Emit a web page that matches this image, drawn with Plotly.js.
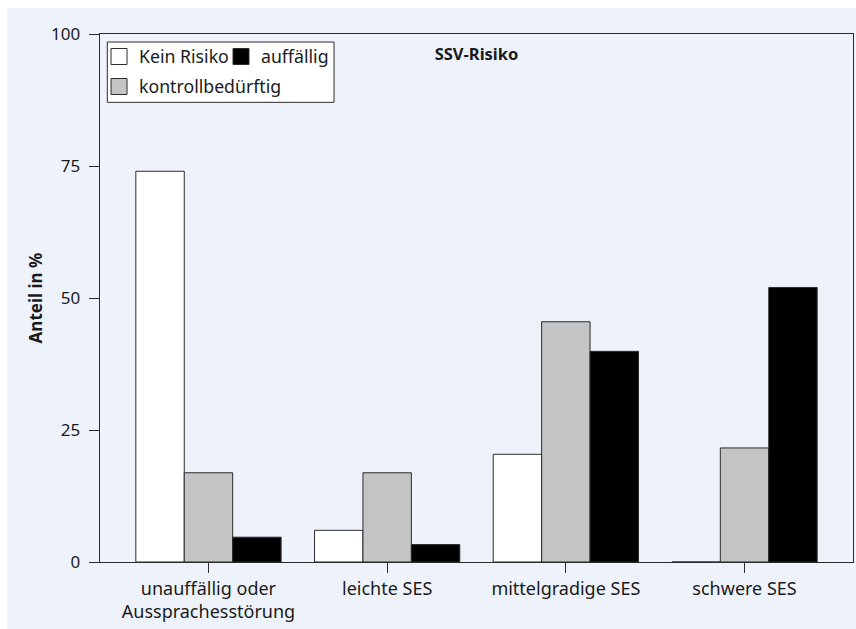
<!DOCTYPE html>
<html>
<head>
<meta charset="utf-8">
<script src="https://cdn.plot.ly/plotly-3.0.1.min.js"></script>
<style>
  html, body { margin: 0; padding: 0; background: #ffffff; }
  #chart { width: 856px; height: 629px; }
</style>
</head>
<body>
<div id="chart"></div>
<script>
// Gruppen (x-Achse)
const categories = [
  'unauffällig oder<br>Aussprachesstörung',
  'leichte SES',
  'mittelgradige SES',
  'schwere SES'
];

// Anteil in % je SSV-Risikostufe
const keinRisiko = [74, 6, 20.4, 0];
const kontrollbeduerftig = [16.9, 16.9, 45.5, 21.6];
const auffaellig = [4.7, 3.3, 39.9, 52];

const seriesNames = ['Kein Risiko', 'kontrollbedürftig', 'auffällig'];
const seriesColors = ['#ffffff', '#c4c4c4', '#000000'];
const yTicks = [0, 25, 50, 75, 100];

const FONT = '"Noto Sans", "Open Sans", sans-serif';
const TEXT = '#1a1a1a';
const EDGE = '#2b2b2b';
const PANEL = '#eef3fb';

const seriesValues = [keinRisiko, kontrollbeduerftig, auffaellig];

// Balken (ohne eigenen Legendeneintrag)
const bars = seriesValues.map((vals, i) => ({
  type: 'bar',
  x: categories,
  y: vals,
  name: seriesNames[i],
  showlegend: false,
  marker: { color: seriesColors[i], line: { color: EDGE, width: 1 } },
  hoverinfo: 'x+y+name'
}));

// Legendeneinträge mit größeren Farbquadraten
const legendPlacement = ['legend', 'legend', 'legend2'];
const keys = seriesNames.map((name, i) => ({
  type: 'scatter',
  mode: 'markers',
  x: [null],
  y: [null],
  name: name,
  legend: legendPlacement[i],
  legendgroup: 'g' + i,
  marker: { symbol: 'square', size: 16, color: seriesColors[i], line: { color: EDGE, width: 1 } },
  hoverinfo: 'skip'
}));

const legendFont = { family: FONT, size: 17.7, color: TEXT };

const layout = {
  width: 856,
  height: 629,
  margin: { l: 100, r: 3, t: 34, b: 67 },
  paper_bgcolor: '#ffffff',
  plot_bgcolor: 'rgba(0,0,0,0)',
  font: { family: FONT, size: 18, color: TEXT },
  barmode: 'group',
  bargap: 0.187,
  bargroupgap: 0,
  title: {
    text: '<b>SSV-Risiko</b>',
    font: { family: FONT, size: 16.5, color: TEXT },
    xref: 'paper', x: 0.5, xanchor: 'center',
    yref: 'container', y: 0.914, yanchor: 'middle'
  },
  xaxis: {
    type: 'category',
    range: [-0.607, 3.607],
    showline: true, linecolor: EDGE, linewidth: 1.3, mirror: true,
    ticks: 'outside', ticklen: 10, tickwidth: 1, tickcolor: EDGE,
    tickfont: { family: FONT, size: 18, color: TEXT },
    showgrid: false, zeroline: false, fixedrange: true
  },
  yaxis: {
    range: [0, 100],
    tickvals: yTicks,
    ticktext: yTicks.map(String),
    showline: true, linecolor: EDGE, linewidth: 1.3, mirror: true,
    ticks: 'outside', ticklen: 10, tickwidth: 1, tickcolor: EDGE,
    ticklabelstandoff: 5,
    tickfont: { family: FONT, size: 17, color: TEXT },
    showgrid: false, zeroline: false, fixedrange: true,
    title: { text: '<b>Anteil in %</b>', font: { family: FONT, size: 17, color: TEXT }, standoff: 4 }
  },
  legend: {
    orientation: 'v',
    x: -0.0013, xanchor: 'left', xref: 'paper',
    y: 0.9915, yanchor: 'top', yref: 'paper',
    bgcolor: 'rgba(0,0,0,0)', borderwidth: 0,
    tracegroupgap: 4,
    itemwidth: 30,
    font: legendFont
  },
  legend2: {
    orientation: 'v',
    x: 0.1607, xanchor: 'left', xref: 'paper',
    y: 0.9915, yanchor: 'top', yref: 'paper',
    bgcolor: 'rgba(0,0,0,0)', borderwidth: 0,
    itemwidth: 30,
    font: legendFont
  },
  shapes: [
    // hellblaue Fläche hinter dem Diagramm
    { type: 'rect', xref: 'paper', yref: 'paper', layer: 'below',
      x0: -0.1235, x1: 1.01, y0: -0.13, y1: 1.0487,
      fillcolor: PANEL, line: { width: 0 } },
    // Rahmen der Legende
    { type: 'rect', xref: 'paper', yref: 'paper', layer: 'above',
      x0: 0.0097, x1: 0.3108, y0: 0.8706, y1: 0.9848,
      fillcolor: '#ffffff', line: { color: EDGE, width: 1 } }
  ]
};

Plotly.newPlot('chart', bars.concat(keys), layout, { displayModeBar: false, staticPlot: true });
</script>
</body>
</html>
